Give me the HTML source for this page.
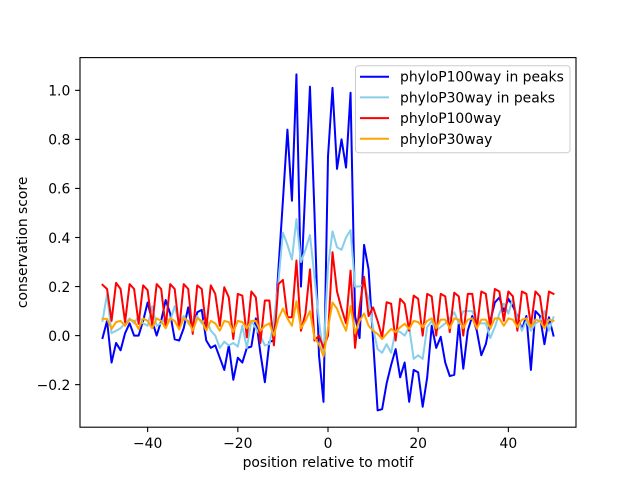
<!DOCTYPE html>
<html><head><meta charset="utf-8"><style>
html,body{margin:0;padding:0;background:#fff;}
svg{display:block;font-family:"DejaVu Sans","Liberation Sans",sans-serif;}
</style></head><body>
<svg width="640" height="480" viewBox="0 0 640 480" xmlns="http://www.w3.org/2000/svg">
<rect x="0" y="0" width="640" height="480" fill="#fff"/>
<defs><clipPath id="ax"><rect x="80" y="57.6" width="496" height="369.6"/></clipPath></defs>
<g clip-path="url(#ax)" fill="none" stroke-width="2" stroke-linejoin="round" stroke-linecap="square">
<g transform="matrix(4.50909 0 0 -245.26 328 335.6)">
<polyline vector-effect="non-scaling-stroke" stroke="#0000ff" points="-50,-0.01 -49,0.06 -48,-0.11 -47,-0.03 -46,-0.06 -45,0.01 -44,0.05 -43,0 -42,0 -41,0.06 -40,0.135 -39,0.06 -38,0 -37,0.06 -36,0.145 -35,0.09 -34,-0.015 -33,-0.02 -32,0.03 -31,0.115 -30,0.015 -29,0.095 -28,0.105 -27,-0.02 -26,-0.05 -25,-0.04 -24,-0.09 -23,-0.14 -22,-0.04 -21,-0.18 -20,-0.09 -19,-0.11 -18,-0.05 -17,-0.045 -16,0.07 -15,-0.07 -14,-0.19 -13,-0.025 -12,-0.02 -11,0.27 -10,0.55 -9,0.84 -8,0.55 -7,1.065 -6,0.2 -5,0.61 -4,1.015 -3,0.5 -2,-0.08 -1,-0.27 0,0.73 1,1.01 2,0.68 3,0.8 4,0.685 5,0.99 6,0.08 7,-0.01 8,0.37 9,0.27 10,-0.02 11,-0.305 12,-0.3 13,-0.195 14,-0.12 15,-0.055 16,-0.17 17,-0.11 18,-0.27 19,-0.14 20,-0.15 21,-0.29 22,-0.17 23,0.04 24,-0.05 25,-0.005 26,-0.11 27,-0.165 28,-0.16 29,0.05 30,-0.135 31,0.02 32,0.08 33,0.02 34,-0.08 35,-0.035 36,0.06 37,0.135 38,0.155 39,0.1 40,0.15 41,0.12 42,0.08 43,0.025 44,0.08 45,-0.14 46,0.1 47,0.08 48,-0.035 49,0.075 50,0"/>
<polyline vector-effect="non-scaling-stroke" stroke="#87ceeb" points="-50,0.06 -49,0.17 -48,0.01 -47,0.02 -46,0.03 -45,0.05 -44,0.07 -43,0.05 -42,0.08 -41,0.05 -40,0.04 -39,0.12 -38,0.04 -37,0.05 -36,0.07 -35,0.06 -34,0.12 -33,0.05 -32,0.08 -31,0.05 -30,0.03 -29,0.08 -28,0.05 -27,0.07 -26,0.02 -25,0 -24,-0.05 -23,-0.025 -22,-0.04 -21,-0.03 -20,-0.045 -19,0.04 -18,-0.05 -17,0.06 -16,0.03 -15,0 -14,-0.04 -13,-0.035 -12,0.06 -11,0.22 -10,0.42 -9,0.37 -8,0.31 -7,0.475 -6,0.3 -5,0.35 -4,0.41 -3,0.24 -2,0.06 -1,-0.08 0,0.28 1,0.425 2,0.36 3,0.35 4,0.4 5,0.43 6,0.2 7,0.2 8,0.21 9,0.15 10,0.03 11,-0.055 12,-0.07 13,-0.035 14,-0.07 15,0.02 16,0.015 17,0 18,0.035 19,-0.095 20,-0.08 21,-0.095 22,0.035 23,0.06 24,0.02 25,0.035 26,0.05 27,0.07 28,0.095 29,0.05 30,0.1 31,0.1 32,0.1 33,0.05 34,0.05 35,0.05 36,-0.01 37,0.035 38,0.09 39,0.13 40,0.09 41,0.15 42,0.07 43,0.02 44,0.06 45,0.02 46,0.05 47,0.06 48,0.1 49,0.02 50,0.075"/>
<polyline vector-effect="non-scaling-stroke" stroke="#ff0000" points="-50,0.207 -49,0.19 -48,0.06 -47,0.215 -46,0.19 -45,0.055 -44,0.21 -43,0.19 -42,0.048 -41,0.205 -40,0.185 -39,0.04 -38,0.21 -37,0.19 -36,0.035 -35,0.21 -34,0.19 -33,0.027 -32,0.21 -31,0.19 -30,0.007 -29,0.205 -28,0.19 -27,0.027 -26,0.205 -25,0.17 -24,0.04 -23,0.197 -22,0.156 -21,-0.014 -20,0.17 -19,0.163 -18,-0.007 -17,0.18 -16,0.156 -15,-0.03 -14,0.143 -13,0.143 -12,-0.04 -11,0.21 -10,0.227 -9,0.075 -8,0.075 -7,0.306 -6,0.02 -5,0.09 -4,0.27 -3,-0.02 -2,0 -1,-0.05 0,0 1,0.34 2,0.18 3,0.11 4,0.05 5,0.265 6,-0.05 7,0.115 8,0.24 9,0.08 10,0.115 11,0.06 12,-0.007 13,0.136 14,0.13 15,-0.02 16,0.15 17,0.13 18,0.02 19,0.163 20,0.15 21,0 22,0.17 23,0.16 24,0 25,0.17 26,0.16 27,0.014 28,0.175 29,0.16 30,0 31,0.17 32,0.17 33,0.027 34,0.18 35,0.17 36,0.03 37,0.19 38,0.18 39,0.06 40,0.18 41,0.16 42,0.02 43,0.18 44,0.17 45,0.04 46,0.18 47,0.16 48,0.03 49,0.18 50,0.17"/>
<polyline vector-effect="non-scaling-stroke" stroke="#ffa500" points="-50,0.068 -49,0.068 -48,0.027 -47,0.055 -46,0.06 -45,0.04 -44,0.065 -43,0.06 -42,0.027 -41,0.07 -40,0.06 -39,0.03 -38,0.07 -37,0.06 -36,0.03 -35,0.07 -34,0.06 -33,0.025 -32,0.07 -31,0.06 -30,0.02 -29,0.07 -28,0.06 -27,0.02 -26,0.06 -25,0.05 -24,0.02 -23,0.06 -22,0.055 -21,0.015 -20,0.06 -19,0.055 -18,0.03 -17,0.06 -16,0.06 -15,0.02 -14,0.04 -13,0.05 -12,0 -11,0.07 -10,0.11 -9,0.07 -8,0.04 -7,0.14 -6,0.03 -5,0.06 -4,0.1 -3,-0.01 -2,-0.035 -1,-0.085 0,0.03 1,0.135 2,0.11 3,0.06 4,0.02 5,0.12 6,0.01 7,0.06 8,0.09 9,0.04 10,0.02 11,0.007 12,-0.014 13,0.007 14,0.027 15,0.014 16,0.034 17,0.048 18,0.027 19,0.06 20,0.055 21,0.034 22,0.06 23,0.07 24,0.03 25,0.065 26,0.065 27,0.03 28,0.07 29,0.065 30,0.03 31,0.065 32,0.07 33,0.03 34,0.065 35,0.065 36,0.03 37,0.07 38,0.07 39,0.04 40,0.07 41,0.065 42,0.035 43,0.065 44,0.07 45,0.035 46,0.065 47,0.06 48,0.03 49,0.065 50,0.06"/>
</g>
</g>
<rect x="80" y="57.6" width="496" height="369.6" fill="none" stroke="#000" stroke-width="1.1"/>
<g stroke="#000" stroke-width="1.1">
<line x1="147.64" y1="427.2" x2="147.64" y2="432.1"/>
<line x1="237.82" y1="427.2" x2="237.82" y2="432.1"/>
<line x1="328" y1="427.2" x2="328" y2="432.1"/>
<line x1="418.18" y1="427.2" x2="418.18" y2="432.1"/>
<line x1="508.36" y1="427.2" x2="508.36" y2="432.1"/>
<line x1="75.1" y1="384.65" x2="80" y2="384.65"/>
<line x1="75.1" y1="335.6" x2="80" y2="335.6"/>
<line x1="75.1" y1="286.55" x2="80" y2="286.55"/>
<line x1="75.1" y1="237.5" x2="80" y2="237.5"/>
<line x1="75.1" y1="188.44" x2="80" y2="188.44"/>
<line x1="75.1" y1="139.39" x2="80" y2="139.39"/>
<line x1="75.1" y1="90.34" x2="80" y2="90.34"/>
</g>
<g font-size="13.9" fill="#000" text-anchor="middle">
<text x="147.64" y="448">−40</text>
<text x="237.82" y="448">−20</text>
<text x="328" y="448">0</text>
<text x="418.18" y="448">20</text>
<text x="508.36" y="448">40</text>
</g>
<g font-size="13.9" fill="#000" text-anchor="end">
<text x="70.3" y="389.9">−0.2</text>
<text x="70.3" y="340.9">0.0</text>
<text x="70.3" y="291.8">0.2</text>
<text x="70.3" y="242.8">0.4</text>
<text x="70.3" y="193.7">0.6</text>
<text x="70.3" y="144.7">0.8</text>
<text x="70.3" y="95.6">1.0</text>
</g>
<text x="328" y="467" font-size="13.9" text-anchor="middle">position relative to motif</text>
<text transform="translate(27,242.4) rotate(-90)" font-size="13.9" text-anchor="middle">conservation score</text>
<rect x="355.5" y="65.7" width="214.5" height="87" rx="3" ry="3" fill="#fff" fill-opacity="0.8" stroke="#cccccc" stroke-width="1"/>
<g stroke-width="2" stroke-linecap="square">
<line x1="361" y1="76.7" x2="388" y2="76.7" stroke="#0000ff"/>
<line x1="361" y1="97.4" x2="388" y2="97.4" stroke="#87ceeb"/>
<line x1="361" y1="118.1" x2="388" y2="118.1" stroke="#ff0000"/>
<line x1="361" y1="138.8" x2="388" y2="138.8" stroke="#ffa500"/>
</g>
<g font-size="13.9" fill="#000">
<text x="400" y="81.7">phyloP100way in peaks</text>
<text x="400" y="102.4">phyloP30way in peaks</text>
<text x="400" y="123.1">phyloP100way</text>
<text x="400" y="143.8">phyloP30way</text>
</g>
</svg>
</body></html>
